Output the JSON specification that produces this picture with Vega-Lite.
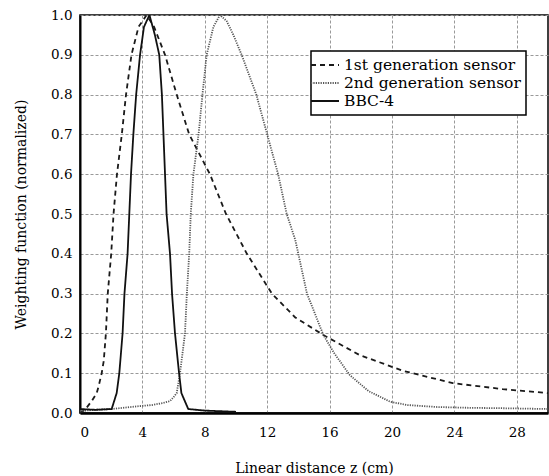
{
  "$schema": "https://vega.github.io/schema/vega-lite/v6.json",
  "width": 468,
  "height": 398,
  "autosize": {"type": "none"},
  "padding": {"left": 80, "top": 15, "right": 1, "bottom": 63},
  "background": "white",
  "config": {
    "view": {"stroke": "black", "strokeWidth": 1.5},
    "font": "DejaVu Serif"
  },
  "data": {
    "values": [
      {"s": "1st generation sensor", "z": 0, "w": 0.0},
      {"s": "1st generation sensor", "z": 0.32, "w": 0.008},
      {"s": "1st generation sensor", "z": 0.75, "w": 0.03},
      {"s": "1st generation sensor", "z": 1.07, "w": 0.05},
      {"s": "1st generation sensor", "z": 1.2, "w": 0.068},
      {"s": "1st generation sensor", "z": 1.39, "w": 0.1},
      {"s": "1st generation sensor", "z": 1.52, "w": 0.13},
      {"s": "1st generation sensor", "z": 1.66, "w": 0.2},
      {"s": "1st generation sensor", "z": 1.78, "w": 0.3},
      {"s": "1st generation sensor", "z": 2.0, "w": 0.4},
      {"s": "1st generation sensor", "z": 2.15, "w": 0.5},
      {"s": "1st generation sensor", "z": 2.37, "w": 0.6},
      {"s": "1st generation sensor", "z": 2.68, "w": 0.7},
      {"s": "1st generation sensor", "z": 2.95, "w": 0.8},
      {"s": "1st generation sensor", "z": 3.3, "w": 0.9},
      {"s": "1st generation sensor", "z": 3.75, "w": 0.97},
      {"s": "1st generation sensor", "z": 4.27, "w": 1.0},
      {"s": "1st generation sensor", "z": 4.75, "w": 0.97},
      {"s": "1st generation sensor", "z": 5.45, "w": 0.9},
      {"s": "1st generation sensor", "z": 6.2, "w": 0.8},
      {"s": "1st generation sensor", "z": 7.0, "w": 0.7},
      {"s": "1st generation sensor", "z": 7.6, "w": 0.655},
      {"s": "1st generation sensor", "z": 8.33, "w": 0.6},
      {"s": "1st generation sensor", "z": 9.36, "w": 0.5},
      {"s": "1st generation sensor", "z": 10.7, "w": 0.4},
      {"s": "1st generation sensor", "z": 12.3, "w": 0.3},
      {"s": "1st generation sensor", "z": 13.8, "w": 0.24},
      {"s": "1st generation sensor", "z": 15.6, "w": 0.196},
      {"s": "1st generation sensor", "z": 17.9, "w": 0.146},
      {"s": "1st generation sensor", "z": 20.7, "w": 0.106},
      {"s": "1st generation sensor", "z": 23.9, "w": 0.075},
      {"s": "1st generation sensor", "z": 27.1, "w": 0.06},
      {"s": "1st generation sensor", "z": 30, "w": 0.05},
      {"s": "2nd generation sensor", "z": 0, "w": 0.005},
      {"s": "2nd generation sensor", "z": 1, "w": 0.008},
      {"s": "2nd generation sensor", "z": 2, "w": 0.01},
      {"s": "2nd generation sensor", "z": 3, "w": 0.014},
      {"s": "2nd generation sensor", "z": 4, "w": 0.018},
      {"s": "2nd generation sensor", "z": 4.6, "w": 0.02},
      {"s": "2nd generation sensor", "z": 5.3, "w": 0.025},
      {"s": "2nd generation sensor", "z": 5.77, "w": 0.03},
      {"s": "2nd generation sensor", "z": 6.0, "w": 0.04},
      {"s": "2nd generation sensor", "z": 6.2, "w": 0.05},
      {"s": "2nd generation sensor", "z": 6.41, "w": 0.1},
      {"s": "2nd generation sensor", "z": 6.73, "w": 0.2},
      {"s": "2nd generation sensor", "z": 6.85, "w": 0.3},
      {"s": "2nd generation sensor", "z": 7.0, "w": 0.4},
      {"s": "2nd generation sensor", "z": 7.1, "w": 0.5},
      {"s": "2nd generation sensor", "z": 7.27, "w": 0.6},
      {"s": "2nd generation sensor", "z": 7.6, "w": 0.7},
      {"s": "2nd generation sensor", "z": 7.85, "w": 0.8},
      {"s": "2nd generation sensor", "z": 8.12, "w": 0.9},
      {"s": "2nd generation sensor", "z": 8.55, "w": 0.97},
      {"s": "2nd generation sensor", "z": 8.97, "w": 1.0},
      {"s": "2nd generation sensor", "z": 9.4, "w": 0.985},
      {"s": "2nd generation sensor", "z": 9.83, "w": 0.95},
      {"s": "2nd generation sensor", "z": 10.36, "w": 0.9},
      {"s": "2nd generation sensor", "z": 11.3, "w": 0.8},
      {"s": "2nd generation sensor", "z": 12.0, "w": 0.7},
      {"s": "2nd generation sensor", "z": 12.7, "w": 0.6},
      {"s": "2nd generation sensor", "z": 13.25, "w": 0.5},
      {"s": "2nd generation sensor", "z": 13.8, "w": 0.435},
      {"s": "2nd generation sensor", "z": 14.55, "w": 0.3},
      {"s": "2nd generation sensor", "z": 15.6, "w": 0.196},
      {"s": "2nd generation sensor", "z": 16.3, "w": 0.15},
      {"s": "2nd generation sensor", "z": 17.3, "w": 0.095},
      {"s": "2nd generation sensor", "z": 18.5, "w": 0.055},
      {"s": "2nd generation sensor", "z": 19.9, "w": 0.028},
      {"s": "2nd generation sensor", "z": 21, "w": 0.02},
      {"s": "2nd generation sensor", "z": 22.9, "w": 0.015},
      {"s": "2nd generation sensor", "z": 25, "w": 0.013},
      {"s": "2nd generation sensor", "z": 27.1, "w": 0.012},
      {"s": "2nd generation sensor", "z": 30, "w": 0.01},
      {"s": "BBC-4", "z": 0, "w": 0.01},
      {"s": "BBC-4", "z": 1, "w": 0.008},
      {"s": "BBC-4", "z": 2.03, "w": 0.01},
      {"s": "BBC-4", "z": 2.35, "w": 0.05},
      {"s": "BBC-4", "z": 2.52, "w": 0.1},
      {"s": "BBC-4", "z": 2.73, "w": 0.2},
      {"s": "BBC-4", "z": 2.85, "w": 0.3},
      {"s": "BBC-4", "z": 3.05, "w": 0.4},
      {"s": "BBC-4", "z": 3.16, "w": 0.5},
      {"s": "BBC-4", "z": 3.27, "w": 0.6},
      {"s": "BBC-4", "z": 3.42, "w": 0.7},
      {"s": "BBC-4", "z": 3.6, "w": 0.8},
      {"s": "BBC-4", "z": 3.85, "w": 0.9},
      {"s": "BBC-4", "z": 4.1, "w": 0.97},
      {"s": "BBC-4", "z": 4.45, "w": 1.0},
      {"s": "BBC-4", "z": 4.8, "w": 0.95},
      {"s": "BBC-4", "z": 5.08, "w": 0.9},
      {"s": "BBC-4", "z": 5.25, "w": 0.8},
      {"s": "BBC-4", "z": 5.34, "w": 0.71},
      {"s": "BBC-4", "z": 5.45, "w": 0.6},
      {"s": "BBC-4", "z": 5.55, "w": 0.5},
      {"s": "BBC-4", "z": 5.77, "w": 0.4},
      {"s": "BBC-4", "z": 5.9, "w": 0.3},
      {"s": "BBC-4", "z": 6.09, "w": 0.2},
      {"s": "BBC-4", "z": 6.35, "w": 0.1},
      {"s": "BBC-4", "z": 6.5, "w": 0.05},
      {"s": "BBC-4", "z": 6.94, "w": 0.01},
      {"s": "BBC-4", "z": 8, "w": 0.006},
      {"s": "BBC-4", "z": 10, "w": 0.003}
    ]
  },
  "resolve": {"axis": {"x": "independent", "y": "independent"}},
  "layer": [
    {
      "mark": {"type": "line", "strokeWidth": 1.8, "clip": true},
      "encoding": {
        "x": {
          "field": "z", "type": "quantitative",
          "scale": {"domain": [0, 30], "nice": false, "zero": false},
          "axis": {
            "orient": "bottom",
            "values": [0, 4, 8, 12, 16, 20, 24, 28],
            "format": "d",
            "ticks": false, "tickSize": 0,
            "labelFont": "DejaVu Serif", "labelFontSize": 13.5, "labelColor": "black", "labelPadding": 12,
            "title": "Linear distance z  (cm)",
            "titleFont": "DejaVu Serif", "titleFontSize": 14, "titleFontWeight": "normal", "titleColor": "black", "titlePadding": 23,
            "grid": true, "gridDash": [3, 2], "gridColor": "#999", "gridWidth": 1,
            "domain": true, "domainColor": "black", "domainWidth": 2.5
          }
        },
        "y": {
          "field": "w", "type": "quantitative",
          "scale": {"domain": [0, 1], "nice": false},
          "axis": {
            "orient": "left",
            "values": [0, 0.1, 0.2, 0.3, 0.4, 0.5, 0.6, 0.7, 0.8, 0.9, 1.0],
            "format": ".1f",
            "ticks": false, "tickSize": 0,
            "labelFont": "DejaVu Serif", "labelFontSize": 13.5, "labelColor": "black", "labelPadding": 8,
            "title": "Weighting function (normalized)",
            "titleFont": "DejaVu Serif", "titleFontSize": 14, "titleFontWeight": "normal", "titleColor": "black", "titlePadding": 22,
            "grid": true, "gridDash": [3, 2], "gridColor": "#999", "gridWidth": 1,
            "domain": true, "domainColor": "black", "domainWidth": 2
          }
        },
        "strokeDash": {
          "field": "s", "type": "nominal",
          "scale": {
            "domain": ["1st generation sensor", "2nd generation sensor", "BBC-4"],
            "range": [[5, 4], [1.2, 1.2], [1, 0]]
          },
          "legend": {
            "title": null,
            "orient": "none", "legendX": 231, "legendY": 36,
            "symbolType": "M-1.75,0H1.75", "symbolSize": 256, "symbolStrokeWidth": 1.8,
            "labelFont": "DejaVu Serif", "labelFontSize": 15.5, "labelColor": "black", "labelOffset": 10, "labelLimit": 0,
            "rowPadding": 0, "padding": 5,
            "strokeColor": "black", "fillColor": "white",
            "encode": {"legend": {"update": {"strokeWidth": {"value": 1.5}}}}
          }
        },
        "color": {
          "field": "s", "type": "nominal",
          "scale": {
            "domain": ["1st generation sensor", "2nd generation sensor", "BBC-4"],
            "range": ["#1a1a1a", "#555555", "#111111"]
          },
          "legend": {
            "title": null,
            "orient": "none", "legendX": 231, "legendY": 36,
            "symbolType": "M-1.75,0H1.75", "symbolSize": 256, "symbolStrokeWidth": 1.8,
            "labelFont": "DejaVu Serif", "labelFontSize": 15.5, "labelColor": "black", "labelOffset": 10, "labelLimit": 0,
            "rowPadding": 0, "padding": 5,
            "strokeColor": "black", "fillColor": "white",
            "encode": {"legend": {"update": {"strokeWidth": {"value": 1.5}}}}
          }
        }
      }
    },
    {
      "mark": {"type": "point", "opacity": 0},
      "encoding": {
        "x": {
          "field": "z", "type": "quantitative",
          "scale": {"domain": [0, 30], "nice": false, "zero": false},
          "axis": {
            "orient": "bottom", "zindex": 2,
            "values": [0, 4, 8, 12, 16, 20, 24, 28],
            "ticks": false, "labels": false, "domain": false, "title": null,
            "grid": true, "gridColor": "black", "gridWidth": 1.2, "gridOpacity": 0,
            "encode": {"grid": {"update": {"strokeOpacity": {"value": 1}, "y": {"value": 0}, "y2": {"value": -8}}}}
          }
        },
        "y": {
          "field": "w", "type": "quantitative",
          "scale": {"domain": [0, 1], "nice": false},
          "axis": {
            "orient": "left", "zindex": 2,
            "values": [0, 0.1, 0.2, 0.3, 0.4, 0.5, 0.6, 0.7, 0.8, 0.9, 1.0],
            "ticks": false, "labels": false, "domain": false, "title": null,
            "grid": true, "gridColor": "black", "gridWidth": 1.2, "gridOpacity": 0,
            "encode": {"grid": {"update": {"strokeOpacity": {"value": 1}, "x": {"value": 0}, "x2": {"value": 8}}}}
          }
        }
      }
    },
    {
      "mark": {"type": "point", "opacity": 0},
      "encoding": {
        "x": {
          "field": "z", "type": "quantitative",
          "scale": {"domain": [0, 30], "nice": false, "zero": false},
          "axis": {
            "orient": "bottom", "zindex": 2,
            "values": [0.5, 1, 1.5, 2, 2.5, 3, 3.5, 4.5, 5, 5.5, 6, 6.5, 7, 7.5, 8.5, 9, 9.5, 10, 10.5, 11, 11.5, 12.5, 13, 13.5, 14, 14.5, 15, 15.5, 16.5, 17, 17.5, 18, 18.5, 19, 19.5, 20.5, 21, 21.5, 22, 22.5, 23, 23.5, 24.5, 25, 25.5, 26, 26.5, 27, 27.5, 28.5, 29, 29.5],
            "ticks": false, "labels": false, "domain": false, "title": null,
            "grid": true, "gridColor": "black", "gridWidth": 1, "gridOpacity": 0,
            "encode": {"grid": {"update": {"strokeOpacity": {"value": 1}, "y": {"value": 0}, "y2": {"value": -4}}}}
          }
        },
        "y": {
          "field": "w", "type": "quantitative",
          "scale": {"domain": [0, 1], "nice": false},
          "axis": {
            "orient": "left", "zindex": 2,
            "values": [0.02, 0.04, 0.06, 0.08, 0.12, 0.14, 0.16, 0.18, 0.22, 0.24, 0.26, 0.28, 0.32, 0.34, 0.36, 0.38, 0.42, 0.44, 0.46, 0.48, 0.52, 0.54, 0.56, 0.58, 0.62, 0.64, 0.66, 0.68, 0.72, 0.74, 0.76, 0.78, 0.82, 0.84, 0.86, 0.88, 0.92, 0.94, 0.96, 0.98],
            "ticks": false, "labels": false, "domain": false, "title": null,
            "grid": true, "gridColor": "black", "gridWidth": 1, "gridOpacity": 0,
            "encode": {"grid": {"update": {"strokeOpacity": {"value": 1}, "x": {"value": 0}, "x2": {"value": 4}}}}
          }
        }
      }
    },
    {
      "mark": {"type": "point", "opacity": 0},
      "encoding": {
        "x": {
          "field": "z", "type": "quantitative",
          "scale": {"domain": [0, 30], "nice": false, "zero": false},
          "axis": {
            "orient": "top", "zindex": 2,
            "values": [0, 4, 8, 12, 16, 20, 24, 28],
            "ticks": false, "labels": false, "domain": false, "title": null,
            "grid": true, "gridColor": "black", "gridWidth": 1.2, "gridOpacity": 0,
            "encode": {"grid": {"update": {"strokeOpacity": {"value": 1}, "y": {"value": 0}, "y2": {"value": 8}}}}
          }
        },
        "y": {
          "field": "w", "type": "quantitative",
          "scale": {"domain": [0, 1], "nice": false},
          "axis": {
            "orient": "right", "zindex": 2,
            "values": [0, 0.1, 0.2, 0.3, 0.4, 0.5, 0.6, 0.7, 0.8, 0.9, 1.0],
            "ticks": false, "labels": false, "domain": false, "title": null,
            "grid": true, "gridColor": "black", "gridWidth": 1.2, "gridOpacity": 0,
            "encode": {"grid": {"update": {"strokeOpacity": {"value": 1}, "x": {"value": 0}, "x2": {"value": -8}}}}
          }
        }
      }
    },
    {
      "mark": {"type": "point", "opacity": 0},
      "encoding": {
        "x": {
          "field": "z", "type": "quantitative",
          "scale": {"domain": [0, 30], "nice": false, "zero": false},
          "axis": {
            "orient": "top", "zindex": 2,
            "values": [0.5, 1, 1.5, 2, 2.5, 3, 3.5, 4.5, 5, 5.5, 6, 6.5, 7, 7.5, 8.5, 9, 9.5, 10, 10.5, 11, 11.5, 12.5, 13, 13.5, 14, 14.5, 15, 15.5, 16.5, 17, 17.5, 18, 18.5, 19, 19.5, 20.5, 21, 21.5, 22, 22.5, 23, 23.5, 24.5, 25, 25.5, 26, 26.5, 27, 27.5, 28.5, 29, 29.5],
            "ticks": false, "labels": false, "domain": false, "title": null,
            "grid": true, "gridColor": "black", "gridWidth": 1, "gridOpacity": 0,
            "encode": {"grid": {"update": {"strokeOpacity": {"value": 1}, "y": {"value": 0}, "y2": {"value": 4}}}}
          }
        },
        "y": {
          "field": "w", "type": "quantitative",
          "scale": {"domain": [0, 1], "nice": false},
          "axis": {
            "orient": "right", "zindex": 2,
            "values": [0.02, 0.04, 0.06, 0.08, 0.12, 0.14, 0.16, 0.18, 0.22, 0.24, 0.26, 0.28, 0.32, 0.34, 0.36, 0.38, 0.42, 0.44, 0.46, 0.48, 0.52, 0.54, 0.56, 0.58, 0.62, 0.64, 0.66, 0.68, 0.72, 0.74, 0.76, 0.78, 0.82, 0.84, 0.86, 0.88, 0.92, 0.94, 0.96, 0.98],
            "ticks": false, "labels": false, "domain": false, "title": null,
            "grid": true, "gridColor": "black", "gridWidth": 1, "gridOpacity": 0,
            "encode": {"grid": {"update": {"strokeOpacity": {"value": 1}, "x": {"value": 0}, "x2": {"value": -4}}}}
          }
        }
      }
    }
  ]
}
